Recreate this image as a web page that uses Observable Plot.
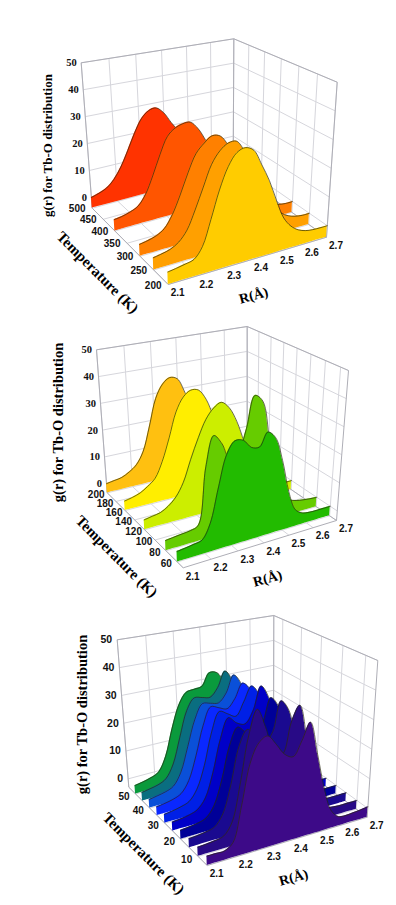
<!DOCTYPE html>
<html><head><meta charset="utf-8">
<style>html,body{margin:0;padding:0;background:#fff}svg{display:block}</style>
<script src="https://cdn.jsdelivr.net/npm/d3@7"></script>
<script src="https://cdn.jsdelivr.net/npm/@observablehq/plot@0.6"></script>
</head><body><div id="chart"></div>
<script>
// g(r) sampled at these R values
const rGrid = [2.10,2.13,2.16,2.19,2.22,2.25,2.28,2.31,2.34,2.37,2.40,2.43,2.46,2.49,2.52,2.55,2.58,2.61,2.64,2.67,2.70];
const rTicks = [2.1,2.2,2.3,2.4,2.5,2.6,2.7];
const gTicks = [0,10,20,30,40,50];

// panel A: 500 K to 200 K
const tempsA = [500,400,300,250,200];
const colorsA = ["#ff3300","#ff5500","#ff8000","#ffa000","#ffcc00"];
const ticksA = [200,250,300,350,400,450,500];
const g500 = [0,.8,2,4.5,8.5,14,20,25,27.5,28,25.5,21,17,12.5,8,5,2.5,1,.3,0,0];
const g400 = [0,.4,1.2,2.5,6,12,19,25,27.5,28.5,28.5,25.5,20.5,15,10,6,3,1.2,.4,0,0];
const g300 = [0,.5,1.3,3,7,13,20,26,29,31,30.3,26.5,21,15,10,6,3,1.3,.4,0,0];
const g250 = [0,.5,1.2,2.8,6,12,19,26,30,32,32,28,22.5,16,10,6,3,1.3,.4,0,0];
const g200 = [0,.4,.9,1.6,5,13,22,29,33,34,32.5,27,21,13.5,7,3.5,1.5,.5,.1,0,0];

// panel B: 200 K to 60 K
const tempsB = [200,160,120,80,60];
const colorsB = ["#ffc010","#ffee00","#ccee00","#66cc00","#22bb00"];
const ticksB = [60,80,100,120,140,160,180,200];
const h200 = [0,.5,1,2.4,4.5,9,18,28,33,35,34,28,21,14,8,4,2,.8,.2,0,0];
const h160 = [0,.6,1.5,3.2,5.5,11,19,28,33,35,34.5,30.5,23,15,8,4.5,2,.8,.2,0,0];
const h120 = [0,.5,1,2.5,5,9.5,17,24,30,33.5,35,32.5,27,19,11,6,3,1.2,.4,0,0];
const h80 = [0,.3,.6,.9,2,21,31,27.5,21,23,31,42,39.5,25,10,4,2,1,.5,.2,0];
const h60 = [0,.3,.7,1.3,6,17,27.5,31.5,31,28,27.5,32,29.5,21,9.5,2.5,.6,.1,0,0,0];

// panel C: 50 K to 5 K
const tempsC = [50,45,40,35,30,25,20,15,10,5];
const colorsC = ["#0a9a3c","#0a6e80","#0a50d8","#0a28ff","#0020e6","#0000c8","#000098","#1a0a90","#280a86","#3d0a88"];
const ticksC = [10,20,30,40,50];
const k50 = [0,.5,1.2,2.5,7.5,17,25,29,29.5,30,34.5,34,29,20,10,3.5,1,.2,0,0,0];
const k45 = [0,.5,1.1,2.5,7,16,25,29,28.5,28,31,36.5,32,20,9,3,1,.2,0,0,0];
const k40 = [0,.5,1.1,2.3,6.5,15,24,29,28.5,28,31,37,33,20,9,3,1,.2,0,0,0];
const k35 = [0,.4,1,2.2,6,14,24,30,29,28,31,36,33,20,9,3,1,.2,0,0,0];
const k30 = [0,.4,1,2,5.5,13,24,30.5,29,27.5,32,37,33,20,8,3,.8,.2,0,0,0];
const k25 = [0,.3,.8,1.8,5,13,24,30.5,28,27,31,39,34,20,8,2.5,.8,.2,0,0,0];
const k20 = [0,.3,.7,1.6,5,13,24,29.5,27,26,29,37,33,20,8,2.5,.8,.2,0,0,0];
const k15 = [0,.2,.6,1.4,5,14,26,31,28,25,28,38,34,19,7,2,.6,.1,0,0,0];
const k10 = [0,.2,.5,1.2,5,17,32,40,33,24,23,33,38,25,9,2.5,.6,.1,0,0,0];
const k5 = [0,0,0,2,13,26,32,33.5,30,26,24.5,29,34.5,23,11,3,.2,-.2,0,.2,.5];

const W = 396, H = 905, SERIF = "Liberation Serif", SANS = "Liberation Sans";

// camera of each 3D box: pixel positions of its corners, plus perspective factors
const views = [
 {temps:tempsA, colors:colorsA, series:[g500,g400,g300,g250,g200], tTicks:ticksA, tMin:200, tMax:500, gMin:-4,
  fbl:[167.7,284], fbr:[326,236.7], bbl:[91.7,207.7], bbr:[232.7,169.7],
  tfl:[163.3,114.7], tfr:[336.7,81.7], tbl:[80.7,62.3], tbr:[233.3,38.3],
  gFont:SERIF, gSize:10.5, titleSize:13, gTitle:[47,145], tTitle:[97,272], rTitle:[253,295], tdx:-15, tdy:1, gdx:-4.5},
 {temps:tempsB, colors:colorsB, series:[h200,h160,h120,h80,h60], tTicks:ticksB, tMin:50, tMax:200, gMin:-3.4,
  fbl:[182.7,567.3], fbr:[336,520], bbl:[106.7,492.3], bbr:[246.7,459],
  tfl:[178.7,400], tfr:[348,370], tbl:[96,349.3], tbr:[246.7,326],
  gFont:SERIF, gSize:10.5, titleSize:14.5, gTitle:[58,422], tTitle:[116,556], rTitle:[267,578], tdx:-11, tdy:2, gdx:-4.5},
 {temps:tempsC, colors:colorsC, series:[k50,k45,k40,k35,k30,k25,k20,k15,k10,k5], tTicks:ticksC, tMin:5, tMax:55, gMin:-3,
  fbl:[206.7,865], fbr:[366.7,816.7], bbl:[128.3,786.7], bbr:[273,747],
  tfl:[202,700], tfr:[377.3,660], tbl:[116.7,639.3], tbr:[273.3,615],
  gFont:SANS, gSize:10.5, titleSize:14.5, gTitle:[82,714], tTitle:[143,853], rTitle:[293,877], tdx:-11.5, tdy:3, gdx:-5}
];

const warp = (t, k) => t / (t + k * (1 - t));
const mix = (a, b, t) => [a[0] + (b[0] - a[0]) * t, a[1] + (b[1] - a[1]) * t];
function project(v, R, T, g) {
  const r = warp((R - 2.1) / 0.6, 0.9), t = warp((T - v.tMin) / (v.tMax - v.tMin), 0.85), z = (g - v.gMin) / (50 - v.gMin);
  const floor = mix(mix(v.fbl, v.fbr, r), mix(v.bbl, v.bbr, r), t);
  const roof = mix(mix(v.tfl, v.tfr, r), mix(v.tbl, v.tbr, r), t);
  return mix(floor, roof, z);
}
function seg(v, a, b) {
  const p = project(v, ...a), q = project(v, ...b);
  return {x1:p[0], y1:p[1], x2:q[0], y2:q[1]};
}
function at(v, R, T, g, label) {
  const p = project(v, R, T, g);
  return {x:p[0], y:p[1], label};
}

const marks = [];
const linkOpt = (stroke, w) => ({x1:"x1", y1:"y1", x2:"x2", y2:"y2", stroke, strokeWidth:w});
const textBase = {x:"x", y:"y", text:"label", fontWeight:"bold", fill:"#111"};

for (const v of views) {
  const rMin = 2.1, rMax = 2.7;
  const grid = [];
  for (const g of gTicks) {
    grid.push(seg(v,[rMin,v.tMax,g],[rMax,v.tMax,g]));
    grid.push(seg(v,[rMax,v.tMax,g],[rMax,v.tMin,g]));
  }
  for (const R of rTicks) {
    grid.push(seg(v,[R,v.tMax,v.gMin],[R,v.tMax,50]));
    grid.push(seg(v,[R,v.tMax,v.gMin],[R,v.tMin,v.gMin]));
  }
  for (const T of v.tTicks) {
    grid.push(seg(v,[rMax,T,v.gMin],[rMax,T,50]));
    grid.push(seg(v,[rMin,T,v.gMin],[rMax,T,v.gMin]));
  }
  marks.push(Plot.link(grid, linkOpt("#d6d6dc", 1)));
  const frame = [
    seg(v,[rMin,v.tMax,50],[rMax,v.tMax,50]),
    seg(v,[rMax,v.tMax,50],[rMax,v.tMin,50]),
    seg(v,[rMax,v.tMax,v.gMin],[rMax,v.tMax,50]),
    seg(v,[rMax,v.tMin,v.gMin],[rMax,v.tMin,50]),
    seg(v,[rMin,v.tMax,v.gMin],[rMin,v.tMax,50]),
    seg(v,[rMin,v.tMax,v.gMin],[rMin,v.tMin,v.gMin]),
    seg(v,[rMin,v.tMin,v.gMin],[rMax,v.tMin,v.gMin]),
    seg(v,[rMax,v.tMin,v.gMin],[rMax,v.tMax,v.gMin])
  ];
  marks.push(Plot.link(frame, linkOpt("#aeaeb6", 1)));

  v.temps.forEach((T, i) => {
    const rows = rGrid.map((R, j) => {
      const top = project(v, R, T, v.series[i][j]), base = project(v, R, T, v.gMin);
      return {x1:base[0], y1:base[1], x2:top[0], y2:top[1]};
    });
    marks.push(Plot.area(rows, {x1:"x1", y1:"y1", x2:"x2", y2:"y2", fill:v.colors[i], curve:"catmull-rom"}));
    marks.push(Plot.line(rows, {x:"x2", y:"y2", stroke:"#2a2a10", strokeWidth:0.8, strokeOpacity:0.85, curve:"catmull-rom"}));
  });

  marks.push(Plot.text(gTicks.map(g => at(v, rMin, v.tMax, g, String(g))),
    {...textBase, textAnchor:"end", dx:v.gdx, fontFamily:v.gFont, fontSize:v.gSize}));
  marks.push(Plot.text(v.tTicks.map(T => at(v, rMin, T, v.gMin, String(T))),
    {...textBase, dx:v.tdx, dy:v.tdy, fontFamily:SANS, fontSize:10}));
  marks.push(Plot.text(rTicks.map(R => at(v, R, v.tMin, v.gMin, R.toFixed(1))),
    {...textBase, dx:9.5, dy:8.5, fontFamily:SANS, fontSize:10}));

  const title = (pos, label, rotate, size) => Plot.text([{x:pos[0], y:pos[1], label}],
    {...textBase, fill:"#000", rotate, fontFamily:SERIF, fontSize:size});
  marks.push(title(v.gTitle, "g(r) for Tb-O distribution", -90, v.titleSize));
  marks.push(title(v.tTitle, "Temperature (K)", 45, 15));
  marks.push(title(v.rTitle, "R(Å)", -15, 14));
}

document.getElementById("chart").append(Plot.plot({
  width:W, height:H, margin:0,
  style:{background:"#fff"},
  x:{domain:[0,W], range:[0,W], axis:null},
  y:{domain:[0,H], range:[0,H], axis:null},
  marks
}));
</script></body></html>
